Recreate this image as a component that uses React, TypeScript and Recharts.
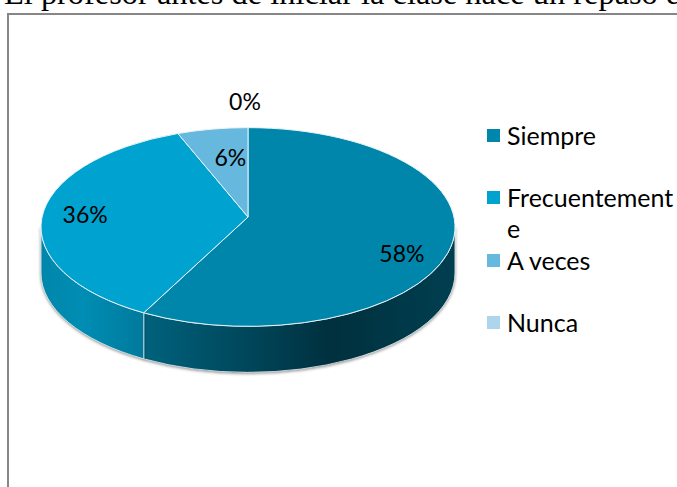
import { PieChart, Pie, Legend } from 'recharts'

const categories = ['Siempre', 'Frecuentemente', 'A veces', 'Nunca']
const values = [58.4, 36.1, 5.5, 0]
const colors = ['#0085ab', '#00a2cf', '#66b8de', '#add5ec']
const wallFills = ['url(#wallRight)', 'url(#wallLeft)', 'none', 'none']

// label placement, as a fraction of the radius plus a small nudge
const labelReach = [0.77, 0.79, 0.72, 1.27]
const labelNudge = [[0, 6], [0, -6], [8, 0], [-3, 0]]

const pieData = categories.map((name, i) => ({ name, value: values[i], fill: colors[i] }))

const SQUASH = 0.48
const APEX_LIFT = 10
const DEPTH = 46
const FONT = 'Lato, "Open Sans", sans-serif'
const rad = (a: number) => (a * Math.PI) / 180

function TiltedSlice(props: any) {
  const { cx, cy, outerRadius, startAngle, endAngle, fill, index } = props
  if (startAngle === endAngle) return <g />
  const rx = outerRadius
  const ry = outerRadius * SQUASH
  const px = (a: number) => cx + rx * Math.cos(rad(a))
  const py = (a: number) => cy - ry * Math.sin(rad(a))
  const large = Math.abs(startAngle - endAngle) > 180 ? 1 : 0
  const wallStart = Math.min(startAngle, 0)
  const wallEnd = Math.max(endAngle, -180)
  const wallLarge = 0
  return (
    <g>
      {wallStart > wallEnd && (
        <path
          d={`M${px(wallStart)},${py(wallStart)} A${rx},${ry} 0 ${wallLarge} 1 ${px(wallEnd)},${py(wallEnd)} L${px(wallEnd)},${py(wallEnd) + DEPTH} A${rx},${ry} 0 ${wallLarge} 0 ${px(wallStart)},${py(wallStart) + DEPTH} Z`}
          fill={wallFills[index]}
          stroke="#e8f2f6"
          strokeWidth={0.8}
          style={{ filter: 'drop-shadow(0 1px 1.5px rgba(0,0,0,0.45))' }}
        />
      )}
      <path
        d={`M${cx},${cy - APEX_LIFT} L${px(startAngle)},${py(startAngle)} A${rx},${ry} 0 ${large} 1 ${px(endAngle)},${py(endAngle)} Z`}
        fill={fill}
        stroke="#e8f2f6"
        strokeWidth={1}
      />
    </g>
  )
}

function renderLabel(props: any) {
  const { cx, cy, outerRadius, midAngle, percent, index } = props
  const reach = outerRadius * labelReach[index]
  const x = cx + reach * Math.cos(rad(midAngle)) + labelNudge[index][0]
  const y = cy - reach * SQUASH * Math.sin(rad(midAngle)) + labelNudge[index][1]
  return (
    <text x={x} y={y} textAnchor="middle" dominantBaseline="central" fontFamily={FONT} fontSize={23} fill="#000">
      {`${Math.round(percent * 100)}%`}
    </text>
  )
}

function LegendList({ payload }: any) {
  return (
    <div style={{ fontFamily: FONT, fontSize: 25, color: '#000', width: 170 }}>
      {(payload || []).map((p: any) => (
        <div key={p.value} style={{ position: 'relative', height: 62.4, lineHeight: '31px' }}>
          <span style={{ position: 'absolute', left: -20, top: 9, width: 13, height: 13, background: p.color }} />
          <span style={{ position: 'absolute', left: 0, top: 0, width: 170, overflowWrap: 'anywhere' }}>{p.value}</span>
        </div>
      ))}
    </div>
  )
}

export default function App() {
  return (
    <div style={{ position: 'absolute', left: 0, top: 0, width: 677, height: 487, overflow: 'hidden', background: '#fff' }}>
      <div
        style={{
          position: 'absolute',
          left: 4,
          top: -25,
          whiteSpace: 'nowrap',
          fontFamily: '"Liberation Serif", serif',
          fontSize: 32.4,
          lineHeight: '37px',
          color: '#000',
        }}
      >
        El profesor antes de iniciar la clase hace un repaso de
      </div>
      <div
        style={{
          position: 'absolute',
          left: 7,
          top: 13,
          width: 700,
          height: 500,
          borderLeft: '2px solid #868686',
          borderTop: '2px solid #868686',
        }}
      />
      <div style={{ position: 'absolute', left: 0, top: 0 }}>
        <PieChart width={677} height={487} margin={{ top: 0, right: 0, bottom: 0, left: 0 }}>
          <defs>
            <linearGradient id="wallRight" x1="0" y1="0" x2="1" y2="0">
              <stop offset="0" stopColor="#00627d" />
              <stop offset="0.6" stopColor="#00303e" />
              <stop offset="1" stopColor="#003f50" />
            </linearGradient>
            <linearGradient id="wallLeft" x1="0" y1="0" x2="1" y2="0">
              <stop offset="0" stopColor="#0086ab" />
              <stop offset="0.4" stopColor="#008db4" />
              <stop offset="1" stopColor="#007a9c" />
            </linearGradient>
          </defs>
          <Pie
            data={pieData}
            dataKey="value"
            nameKey="name"
            cx={248}
            cy={227}
            outerRadius={207}
            startAngle={90}
            endAngle={-270}
            isAnimationActive={false}
            shape={TiltedSlice}
            label={renderLabel}
            labelLine={false}
          />
          <Legend
            layout="vertical"
            align="right"
            verticalAlign="top"
            itemSorter={null}
            content={<LegendList />}
            wrapperStyle={{ position: 'absolute', left: 507, top: 120, width: 170 }}
          />
        </PieChart>
      </div>
    </div>
  )
}
